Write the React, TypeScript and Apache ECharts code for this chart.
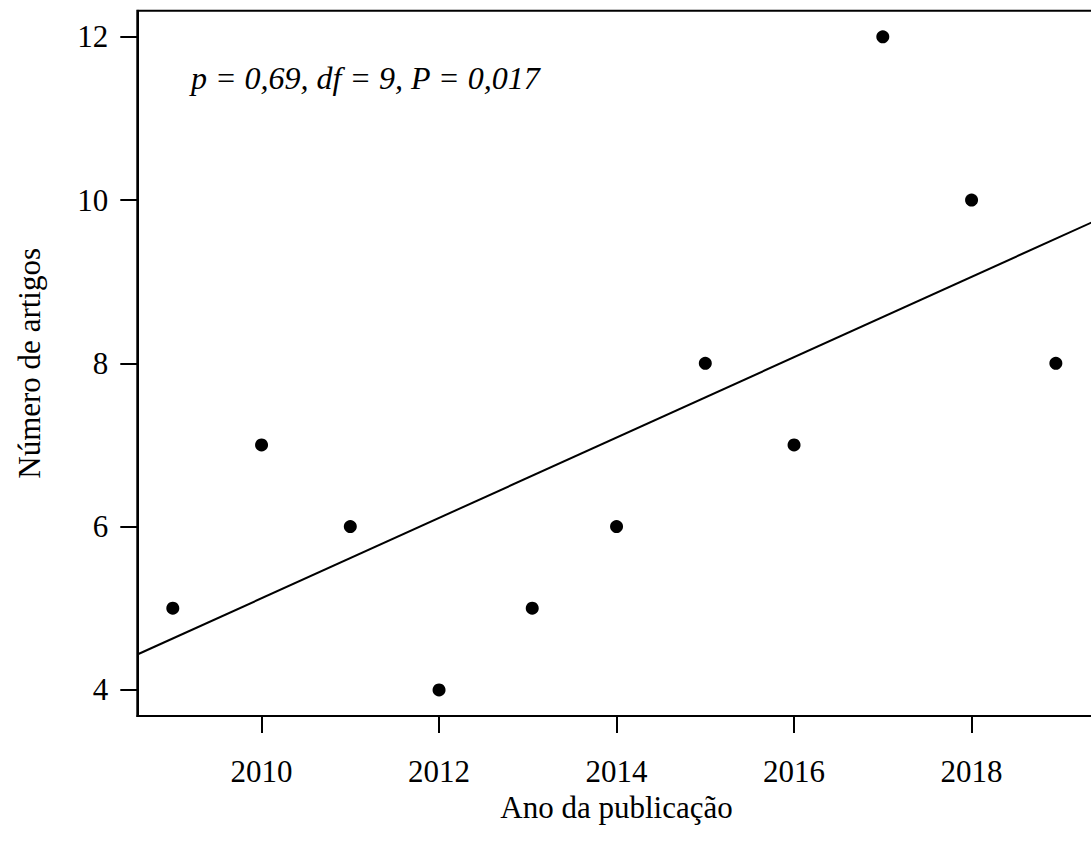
import React, { useEffect, useRef } from "react";
import * as echarts from "echarts";

const years = [2009, 2010, 2011, 2012, 2013.05, 2014, 2015, 2016, 2017, 2018, 2018.95];
const articles = [5, 7, 6, 4, 5, 6, 8, 7, 12, 10, 8];
const xTicks = [2010, 2012, 2014, 2016, 2018];
const yTicks = [4, 6, 8, 10, 12];
const annotation = "p = 0,69, df = 9, P = 0,017";
const xTitle = "Ano da publicação";
const yTitle = "Número de artigos";

const X_MIN = 2008.6;
const X_MAX = 2019.4;
const Y_MIN = 3.68;
const Y_MAX = 12.32;

function regression(xs: number[], ys: number[]) {
  const n = xs.length;
  const mx = xs.reduce((a, b) => a + b, 0) / n;
  const my = ys.reduce((a, b) => a + b, 0) / n;
  let sxy = 0;
  let sxx = 0;
  for (let i = 0; i < n; i++) {
    sxy += (xs[i] - mx) * (ys[i] - my);
    sxx += (xs[i] - mx) * (xs[i] - mx);
  }
  const b = sxy / sxx;
  return { a: my - b * mx, b };
}

const FONT = "Liberation Serif";

export default function App() {
  const ref = useRef<HTMLDivElement>(null);
  useEffect(() => {
    if (!ref.current) return;
    const chart = echarts.init(ref.current, null, { renderer: "svg" });
    const { a, b } = regression(years, articles);
    const fitLine = [X_MIN, X_MAX].map((x) => [x, a + b * x]);
    chart.setOption({
      animation: false,
      backgroundColor: "#ffffff",
      textStyle: { fontFamily: FONT, color: "#000" },
      grid: {
        left: 137.3,
        top: 10.7,
        width: 958.5,
        height: 705.3,
        containLabel: false,
        outerBoundsMode: "none",
        show: true,
        borderColor: "#000",
        borderWidth: 2,
        backgroundColor: "transparent",
      },
      xAxis: {
        type: "value",
        min: X_MIN,
        max: X_MAX,
        splitLine: { show: false },
        axisLine: { show: true, onZero: false, lineStyle: { color: "#000", width: 2 } },
        axisTick: {
          show: true,
          length: 17,
          lineStyle: { color: "#000", width: 2 },
          customValues: xTicks,
        },
        axisLabel: {
          show: true,
          customValues: xTicks,
          formatter: (v: number) => String(Math.round(v)),
          fontFamily: FONT,
          fontSize: 31,
          color: "#000",
          margin: 40,
        },
        name: xTitle,
        nameLocation: "middle",
        nameGap: 76,
        nameTextStyle: { fontFamily: FONT, fontSize: 31, color: "#000" },
      },
      yAxis: {
        type: "value",
        min: Y_MIN,
        max: Y_MAX,
        splitLine: { show: false },
        axisLine: { show: true, onZero: false, lineStyle: { color: "#000", width: 2 } },
        axisTick: {
          show: true,
          length: 17,
          lineStyle: { color: "#000", width: 2 },
          customValues: yTicks,
        },
        axisLabel: {
          show: true,
          customValues: yTicks,
          formatter: (v: number) => String(Math.round(v)),
          fontFamily: FONT,
          fontSize: 31,
          color: "#000",
          margin: 29,
        },
        name: yTitle,
        nameLocation: "middle",
        nameGap: 92,
        nameTextStyle: { fontFamily: FONT, fontSize: 31, color: "#000" },
      },
      graphic: [
        {
          type: "text",
          left: 191,
          top: 62,
          style: {
            text: annotation,
            fontFamily: FONT,
            fontStyle: "italic",
            fontSize: 32,
            fill: "#000",
          },
        },
      ],
      series: [
        {
          type: "scatter",
          data: years.map((y, i) => [y, articles[i]]),
          symbol: "circle",
          symbolSize: 13,
          itemStyle: { color: "#000", opacity: 1 },
        },
        {
          type: "line",
          data: fitLine,
          showSymbol: false,
          symbol: "none",
          clip: true,
          lineStyle: { color: "#000", width: 2 },
        },
      ],
    });
    return () => chart.dispose();
  }, []);
  return (
    <div
      ref={ref}
      style={{ position: "fixed", left: 0, top: 0, width: 1091, height: 854, background: "#fff" }}
    />
  );
}
